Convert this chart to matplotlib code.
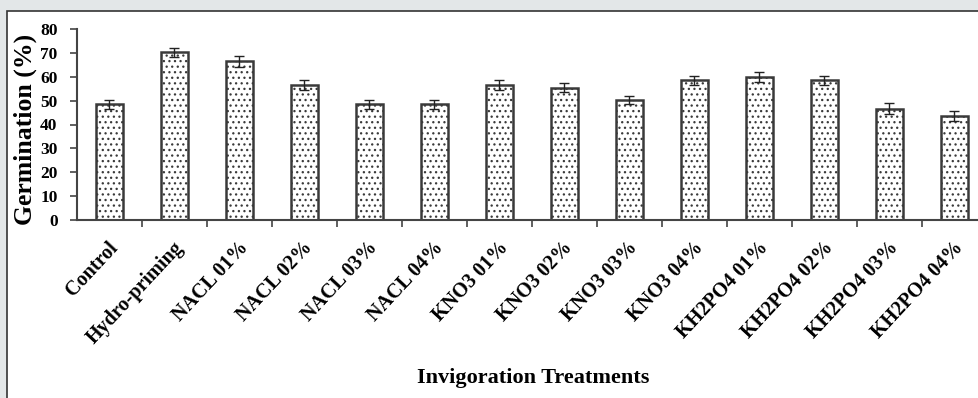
import matplotlib
matplotlib.use("Agg")
import matplotlib.pyplot as plt
from matplotlib.patches import Rectangle
import matplotlib.transforms as mtransforms
import numpy as np

categories = ["Control", "Hydro-priming", "NACL 01%", "NACL 02%", "NACL 03%", "NACL 04%",
              "KNO3 01%", "KNO3 02%", "KNO3 03%", "KNO3 04%",
              "KH2PO4 01%", "KH2PO4 02%", "KH2PO4 03%", "KH2PO4 04%"]
values = [48.4, 70.2, 66.4, 56.5, 48.4, 48.4, 56.5, 55.4, 50.2, 58.6, 59.8, 58.6, 46.7, 43.6]
errors = [1.8, 2.0, 2.4, 2.0, 1.8, 1.8, 2.0, 1.9, 1.8, 1.9, 2.0, 1.9, 2.2, 2.1]
yticks = [0, 10, 20, 30, 40, 50, 60, 70, 80]

plt.rcParams['font.family'] = ['Liberation Serif', 'DejaVu Serif']
plt.rcParams['hatch.color'] = '#8c8c8c'
plt.rcParams['hatch.linewidth'] = 0.9

W, H = 979, 398
fig = plt.figure(figsize=(W/100, H/100), dpi=100)
fig.patch.set_facecolor('#e3e7e8')
# white panel in a background axes
bg = fig.add_axes([0, 0, 1, 1], zorder=-10)
bg.set_xlim(0, W)
bg.set_ylim(H, 0)
bg.axis('off')
bg.add_patch(Rectangle((7, 11), W, H, facecolor='white', edgecolor='#333333', linewidth=1.2))

ax = fig.add_axes([77/W, (H-220)/H, (W-77)/W, 191/H], zorder=1)
ax.set_facecolor('none')
x = np.arange(len(categories))
ax.bar(x, values, width=0.42, color='white', edgecolor='#3a3a3a', linewidth=1.8, hatch='...', zorder=2)
ax.errorbar(x, values, yerr=errors, fmt='none', ecolor='#222222', elinewidth=1.0, capsize=3.5, capthick=1.0, zorder=3)

ax.set_xlim(-0.5, -0.5 + (W - 77) / 65.0)
ax.set_ylim(0, 80)
ax.set_yticks(yticks)
ax.set_yticklabels([str(t) for t in yticks], fontsize=12.5, fontweight='bold')
ax.set_xticks(x)
ax.set_xticklabels(categories, rotation=47, ha='right', va='top', rotation_mode='anchor',
                   fontsize=14.5, fontweight='bold')
ax.tick_params(axis='x', which='major', length=0, pad=13)
offset = mtransforms.ScaledTranslation(-2/100, 0, fig.dpi_scale_trans)
for lbl in ax.get_xticklabels():
    lbl.set_transform(lbl.get_transform() + offset)
ax.set_xticks(np.arange(0.5, len(categories) - 0.5, 1), minor=True)
ax.tick_params(axis='x', which='minor', length=5, width=1.2, color='#444444', direction='out')
ax.tick_params(axis='y', length=5, width=1.2, color='#444444', direction='out', pad=9)
for s in ['top', 'right']:
    ax.spines[s].set_visible(False)
for s in ['left', 'bottom']:
    ax.spines[s].set_linewidth(1.5)
    ax.spines[s].set_color('#444444')

fig.text(25/W, 1 - 129/H, 'Germination (%)', rotation=90, ha='center', va='center',
         fontsize=18.5, fontweight='bold')
fig.text(533/W, 1 - 378/H, 'Invigoration Treatments', ha='center', va='center', fontsize=16, fontweight='bold')

fig.savefig('out.png', dpi=100, facecolor=fig.get_facecolor())
